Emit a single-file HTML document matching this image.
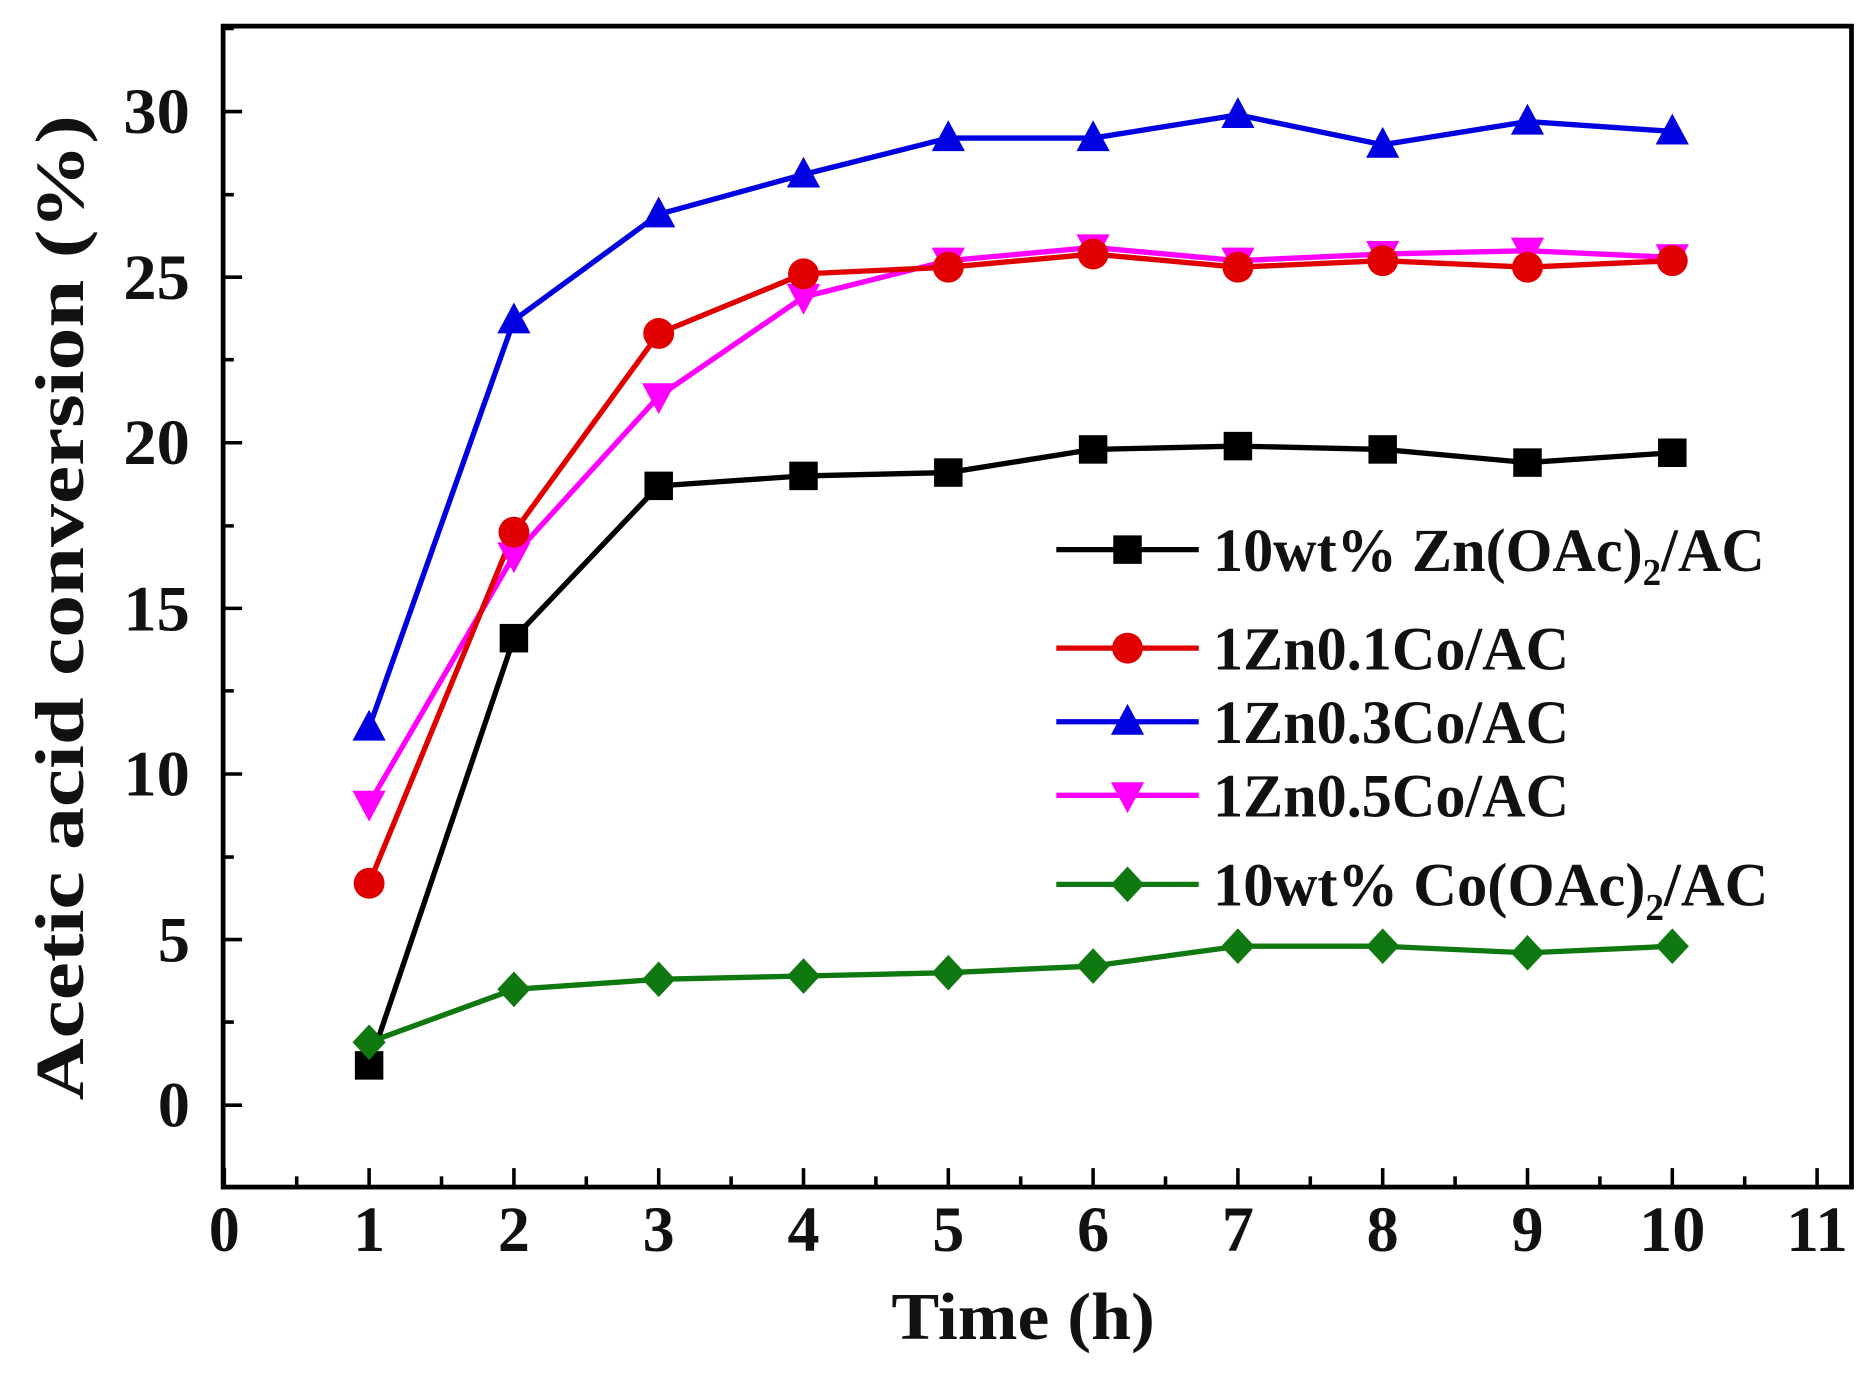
<!DOCTYPE html>
<html><head><meta charset="utf-8"><style>
html,body{margin:0;padding:0;background:#fff;}
svg{display:block;}
text{font-family:"Liberation Serif",serif;font-weight:bold;fill:#111;}
</style></head><body>
<svg width="1861" height="1377" viewBox="0 0 1568 1160" preserveAspectRatio="none" xmlns="http://www.w3.org/2000/svg">
<defs>
<rect id="sq" x="-12" y="-12" width="24" height="24" fill="#000"/>
<circle id="ci" r="13" fill="#e00000"/>
<polygon id="tu" points="0,-15 14,11 -14,11" fill="#0000e0"/>
<polygon id="td" points="0,15 14,-11 -14,-11" fill="#ff00ff"/>
<polygon id="di" points="0,-15 14,0 0,15 -14,0" fill="#107810"/>
</defs>
<rect x="188" y="22" width="1372" height="978" fill="none" stroke="#000" stroke-width="4"/>
<g stroke="#000" stroke-width="3">
<path d="M189 1000v-16M311 1000v-16M433 1000v-16M555 1000v-16M677 1000v-16M799 1000v-16M921 1000v-16M1043 1000v-16M1165 1000v-16M1287 1000v-16M1409 1000v-16M1531 1000v-16"/>
<path d="M250 1000v-9M372 1000v-9M494 1000v-9M616 1000v-9M738 1000v-9M860 1000v-9M982 1000v-9M1104 1000v-9M1226 1000v-9M1348 1000v-9M1470 1000v-9"/>
<path d="M188 931h16M188 791.5h16M188 652h16M188 512.5h16M188 373h16M188 233.5h16M188 94h16"/>
<path d="M188 861h9M188 722h9M188 582h9M188 443h9M188 303h9M188 164h9M188 24h9"/>
</g>
<g font-size="54" text-anchor="middle">
<text x="189" y="1054" textLength="26" lengthAdjust="spacingAndGlyphs">0</text><text x="311" y="1054">1</text><text x="433" y="1054">2</text><text x="555" y="1054">3</text><text x="677" y="1054">4</text><text x="799" y="1054">5</text><text x="921" y="1054">6</text><text x="1043" y="1054">7</text><text x="1165" y="1054">8</text><text x="1287" y="1054">9</text><text x="1409" y="1054" textLength="56" lengthAdjust="spacingAndGlyphs">10</text><text x="1531" y="1054" textLength="52" lengthAdjust="spacingAndGlyphs">11</text>
</g>
<g font-size="54" text-anchor="end">
<text x="160" y="949">0</text><text x="160" y="810">5</text><text x="160" y="670" textLength="56" lengthAdjust="spacingAndGlyphs">10</text><text x="160" y="531" textLength="56" lengthAdjust="spacingAndGlyphs">15</text><text x="160" y="391" textLength="56" lengthAdjust="spacingAndGlyphs">20</text><text x="160" y="252" textLength="56" lengthAdjust="spacingAndGlyphs">25</text><text x="160" y="112" textLength="56" lengthAdjust="spacingAndGlyphs">30</text>
</g>
<text x="862" y="1128" font-size="56" text-anchor="middle" textLength="222" lengthAdjust="spacingAndGlyphs">Time (h)</text>
<text transform="translate(70,512) rotate(-90)" font-size="58" text-anchor="middle" textLength="830" lengthAdjust="spacingAndGlyphs">Acetic acid conversion (%)</text>
<g fill="none" stroke-width="4.5" stroke-linejoin="round">
<polyline stroke="#000" points="311,897.5 433,537.6 555,409.3 677,400.9 799,398.1 921,378.6 1043,375.8 1165,378.6 1287,389.7 1409,381.4"/>
<polyline stroke="#107810" points="311,878 433,833.4 555,825 677,822.2 799,819.4 921,813.8 1043,797.1 1165,797.1 1287,802.7 1409,797.1"/>
<polyline stroke="#ff00ff" points="311,677.1 433,467.9 555,333.9 677,250.2 799,219.6 921,208.4 1043,219.6 1165,214 1287,211.2 1409,216.8"/>
<polyline stroke="#e00000" points="311,744.1 433,448.3 555,280.9 677,230.7 799,225.1 921,214 1043,225.1 1165,219.6 1287,225.1 1409,219.6"/>
<polyline stroke="#0000e0" points="311,612.9 433,269.8 555,180.5 677,147 799,116.3 921,116.3 1043,96.8 1165,121.9 1287,102.4 1409,110.7"/>
</g>
<g>
<use href="#sq" x="311" y="897.5"/><use href="#sq" x="433" y="537.6"/><use href="#sq" x="555" y="409.3"/><use href="#sq" x="677" y="400.9"/><use href="#sq" x="799" y="398.1"/><use href="#sq" x="921" y="378.6"/><use href="#sq" x="1043" y="375.8"/><use href="#sq" x="1165" y="378.6"/><use href="#sq" x="1287" y="389.7"/><use href="#sq" x="1409" y="381.4"/>
<use href="#di" x="311" y="878"/><use href="#di" x="433" y="833.4"/><use href="#di" x="555" y="825"/><use href="#di" x="677" y="822.2"/><use href="#di" x="799" y="819.4"/><use href="#di" x="921" y="813.8"/><use href="#di" x="1043" y="797.1"/><use href="#di" x="1165" y="797.1"/><use href="#di" x="1287" y="802.7"/><use href="#di" x="1409" y="797.1"/>
<use href="#td" x="311" y="677.1"/><use href="#td" x="433" y="467.9"/><use href="#td" x="555" y="333.9"/><use href="#td" x="677" y="250.2"/><use href="#td" x="799" y="219.6"/><use href="#td" x="921" y="208.4"/><use href="#td" x="1043" y="219.6"/><use href="#td" x="1165" y="214"/><use href="#td" x="1287" y="211.2"/><use href="#td" x="1409" y="216.8"/>
<use href="#ci" x="311" y="744.1"/><use href="#ci" x="433" y="448.3"/><use href="#ci" x="555" y="280.9"/><use href="#ci" x="677" y="230.7"/><use href="#ci" x="799" y="225.1"/><use href="#ci" x="921" y="214"/><use href="#ci" x="1043" y="225.1"/><use href="#ci" x="1165" y="219.6"/><use href="#ci" x="1287" y="225.1"/><use href="#ci" x="1409" y="219.6"/>
<use href="#tu" x="311" y="612.9"/><use href="#tu" x="433" y="269.8"/><use href="#tu" x="555" y="180.5"/><use href="#tu" x="677" y="147"/><use href="#tu" x="799" y="116.3"/><use href="#tu" x="921" y="116.3"/><use href="#tu" x="1043" y="96.8"/><use href="#tu" x="1165" y="121.9"/><use href="#tu" x="1287" y="102.4"/><use href="#tu" x="1409" y="110.7"/>
</g>
<g stroke-width="4.5">
<line x1="890" y1="463" x2="1010" y2="463" stroke="#000"/>
<line x1="890" y1="546" x2="1010" y2="546" stroke="#e00000"/>
<line x1="890" y1="608" x2="1010" y2="608" stroke="#0000e0"/>
<line x1="890" y1="670" x2="1010" y2="670" stroke="#ff00ff"/>
<line x1="890" y1="745" x2="1010" y2="745" stroke="#107810"/>
</g>
<use href="#sq" x="950" y="463"/><use href="#ci" x="950" y="546"/><use href="#tu" x="950" y="608"/><use href="#td" x="950" y="670"/><use href="#di" x="950" y="745"/>
<g font-size="52">
<text x="1022" y="481" textLength="465" lengthAdjust="spacingAndGlyphs">10wt% Zn(OAc)<tspan font-size="32" dy="12">2</tspan><tspan dy="-12">/AC</tspan></text>
<text x="1022" y="564" textLength="300" lengthAdjust="spacingAndGlyphs">1Zn0.1Co/AC</text>
<text x="1022" y="626" textLength="300" lengthAdjust="spacingAndGlyphs">1Zn0.3Co/AC</text>
<text x="1022" y="688" textLength="300" lengthAdjust="spacingAndGlyphs">1Zn0.5Co/AC</text>
<text x="1022" y="763" textLength="468" lengthAdjust="spacingAndGlyphs">10wt% Co(OAc)<tspan font-size="32" dy="12">2</tspan><tspan dy="-12">/AC</tspan></text>
</g>
</svg>
</body></html>
